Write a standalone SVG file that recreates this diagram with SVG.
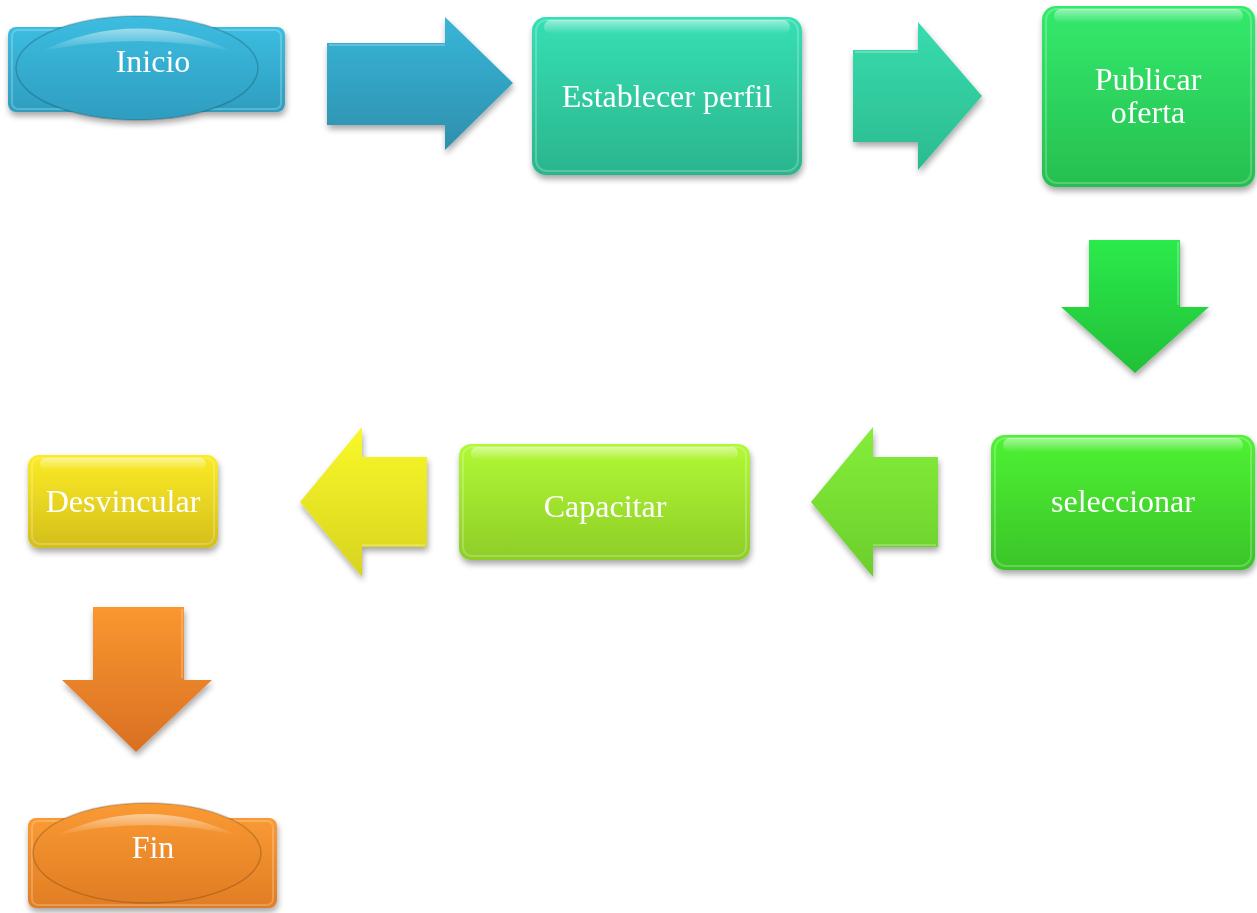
<svg xmlns="http://www.w3.org/2000/svg" width="1257" height="913" viewBox="0 0 1257 913">
<defs>
<filter id="sh" x="-10%" y="-10%" width="120%" height="130%">
<feGaussianBlur in="SourceAlpha" stdDeviation="3"/>
<feOffset dx="1" dy="4" result="b"/>
<feComponentTransfer><feFuncA type="linear" slope="0.35"/></feComponentTransfer>
<feMerge><feMergeNode/><feMergeNode in="SourceGraphic"/></feMerge>
</filter>
<linearGradient id="gBlue" x1="0" y1="0" x2="0" y2="1"><stop offset="0" stop-color="#3cbde0"/><stop offset="1" stop-color="#2e9dc0"/></linearGradient>
<linearGradient id="gBlueA" x1="0" y1="0" x2="0" y2="1"><stop offset="0" stop-color="#38b6d8"/><stop offset="1" stop-color="#2e8fae"/></linearGradient>
<linearGradient id="gTeal" x1="0" y1="0" x2="0" y2="1"><stop offset="0" stop-color="#36dfb4"/><stop offset="1" stop-color="#2bb58d"/></linearGradient>
<linearGradient id="gTealA" x1="0" y1="0" x2="0" y2="1"><stop offset="0" stop-color="#38dcae"/><stop offset="1" stop-color="#2bbb90"/></linearGradient>
<linearGradient id="gGreen1" x1="0" y1="0" x2="0" y2="1"><stop offset="0" stop-color="#33ea6c"/><stop offset="1" stop-color="#27bf50"/></linearGradient>
<linearGradient id="gGreen1A" x1="0" y1="0" x2="0" y2="1"><stop offset="0" stop-color="#2bea4c"/><stop offset="1" stop-color="#22c037"/></linearGradient>
<linearGradient id="gGreen2" x1="0" y1="0" x2="0" y2="1"><stop offset="0" stop-color="#4ff234"/><stop offset="1" stop-color="#3ac428"/></linearGradient>
<linearGradient id="gGreen3A" x1="0" y1="0" x2="0" y2="1"><stop offset="0" stop-color="#84ee3a"/><stop offset="1" stop-color="#6cce2c"/></linearGradient>
<linearGradient id="gLime" x1="0" y1="0" x2="0" y2="1"><stop offset="0" stop-color="#b1f935"/><stop offset="1" stop-color="#8ecd28"/></linearGradient>
<linearGradient id="gYelA" x1="0" y1="0" x2="0" y2="1"><stop offset="0" stop-color="#f8f92a"/><stop offset="1" stop-color="#d8d31f"/></linearGradient>
<linearGradient id="gYel" x1="0" y1="0" x2="0" y2="1"><stop offset="0" stop-color="#fbec25"/><stop offset="1" stop-color="#d4be1c"/></linearGradient>
<linearGradient id="gOrA" x1="0" y1="0" x2="0" y2="1"><stop offset="0" stop-color="#fa9730"/><stop offset="1" stop-color="#d97023"/></linearGradient>
<linearGradient id="gOr" x1="0" y1="0" x2="0" y2="1"><stop offset="0" stop-color="#fa9a33"/><stop offset="1" stop-color="#e07d24"/></linearGradient>
<linearGradient id="gloss" x1="0" y1="0" x2="0" y2="1"><stop offset="0" stop-color="#fff" stop-opacity="0.5"/><stop offset="1" stop-color="#fff" stop-opacity="0"/></linearGradient>
</defs>
<style>
.t{font-family:"Liberation Serif","Times New Roman",serif;font-size:32px;fill:#fff;text-anchor:middle}
.hl{fill:none;stroke:#fff;stroke-opacity:0.22;stroke-width:2}
.gl{fill:url(#gloss)}
.ed{fill:none;stroke:#000;stroke-opacity:0.18;stroke-width:1.5}
</style>

<g id="connectors">
<g id="a1" filter="url(#sh)"><path d="M327 43 H445 V17 L513 83 L445 150 V125 H327 Z" fill="url(#gBlueA)"/><path d="M329 45 H445" class="hl"/></g>
<g id="a2" filter="url(#sh)"><path d="M853 50 H918 V22 L982 96 L918 170 V142 H853 Z" fill="url(#gTealA)"/><path d="M855 52 H918" class="hl"/></g>
<g id="a3" filter="url(#sh)"><path d="M1089 240 H1180 V307 H1209 L1135 373 L1061 307 H1089 Z" fill="url(#gGreen1A)"/><path d="M1178 242 V305" class="hl"/></g>
<g id="a4" filter="url(#sh)"><path d="M938 457 V547 H873 V577 L811 502 L873 427 V457 Z" fill="url(#gGreen3A)"/><path d="M873 545 H936" class="hl"/></g>
<g id="a5" filter="url(#sh)"><path d="M427 457 V547 H362 V577 L300 502 L362 427 V457 Z" fill="url(#gYelA)"/><path d="M362 545 H425" class="hl"/></g>
<g id="a6" filter="url(#sh)"><path d="M93 607 H184 V680 H212 L136 752 L62 680 H93 Z" fill="url(#gOrA)"/><path d="M182 609 V678" class="hl"/></g>
</g>

<g id="inicio" filter="url(#sh)">
<rect x="8" y="27" width="277" height="85" rx="8" fill="url(#gBlue)"/>
<rect x="12" y="30" width="269" height="79" rx="6" class="hl"/>
<ellipse cx="137" cy="68" rx="121" ry="52" fill="url(#gBlue)"/>
<ellipse cx="137" cy="68" rx="121" ry="52" class="ed"/>
<path d="M40 52 Q137 5 234 52 Q137 30 40 52 Z" class="gl"/>
<text x="153" y="72" class="t">Inicio</text>
</g>

<g id="establecer" filter="url(#sh)">
<rect x="532" y="17" width="270" height="158" rx="14" fill="url(#gTeal)"/>
<rect x="536" y="20" width="262" height="151" rx="11" class="hl"/>
<rect x="544" y="20" width="246" height="14" rx="7" class="gl"/>
<text x="667" y="107" class="t">Establecer perfil</text>
</g>

<g id="publicar" filter="url(#sh)">
<rect x="1042" y="6" width="213" height="181" rx="14" fill="url(#gGreen1)"/>
<rect x="1046" y="9" width="205" height="174" rx="11" class="hl"/>
<rect x="1054" y="9" width="189" height="14" rx="7" class="gl"/>
<text x="1148" y="90" class="t">Publicar</text>
<text x="1148" y="123" class="t">oferta</text>
</g>

<g id="seleccionar" filter="url(#sh)">
<rect x="991" y="435" width="264" height="135" rx="14" fill="url(#gGreen2)"/>
<rect x="995" y="438" width="256" height="128" rx="11" class="hl"/>
<rect x="1003" y="438" width="240" height="14" rx="7" class="gl"/>
<text x="1123" y="512" class="t">seleccionar</text>
</g>

<g id="capacitar" filter="url(#sh)">
<rect x="459" y="444" width="291" height="116" rx="12" fill="url(#gLime)"/>
<rect x="463" y="447" width="283" height="109" rx="9" class="hl"/>
<rect x="471" y="447" width="267" height="13" rx="6" class="gl"/>
<text x="605" y="517" class="t">Capacitar</text>
</g>

<g id="desvincular" filter="url(#sh)">
<rect x="28" y="455" width="190" height="93" rx="11" fill="url(#gYel)"/>
<rect x="32" y="458" width="182" height="86" rx="8" class="hl"/>
<rect x="40" y="458" width="166" height="12" rx="6" class="gl"/>
<text x="123" y="512" class="t">Desvincular</text>
</g>

<g id="fin" filter="url(#sh)">
<rect x="28" y="818" width="249" height="90" rx="8" fill="url(#gOr)"/>
<rect x="32" y="821" width="241" height="84" rx="6" class="hl"/>
<ellipse cx="147" cy="853" rx="114" ry="50" fill="url(#gOr)"/>
<ellipse cx="147" cy="853" rx="114" ry="50" class="ed"/>
<path d="M55 836 Q147 792 239 836 Q147 814 55 836 Z" class="gl"/>
<text x="153" y="858" class="t">Fin</text>
</g>
</svg>
